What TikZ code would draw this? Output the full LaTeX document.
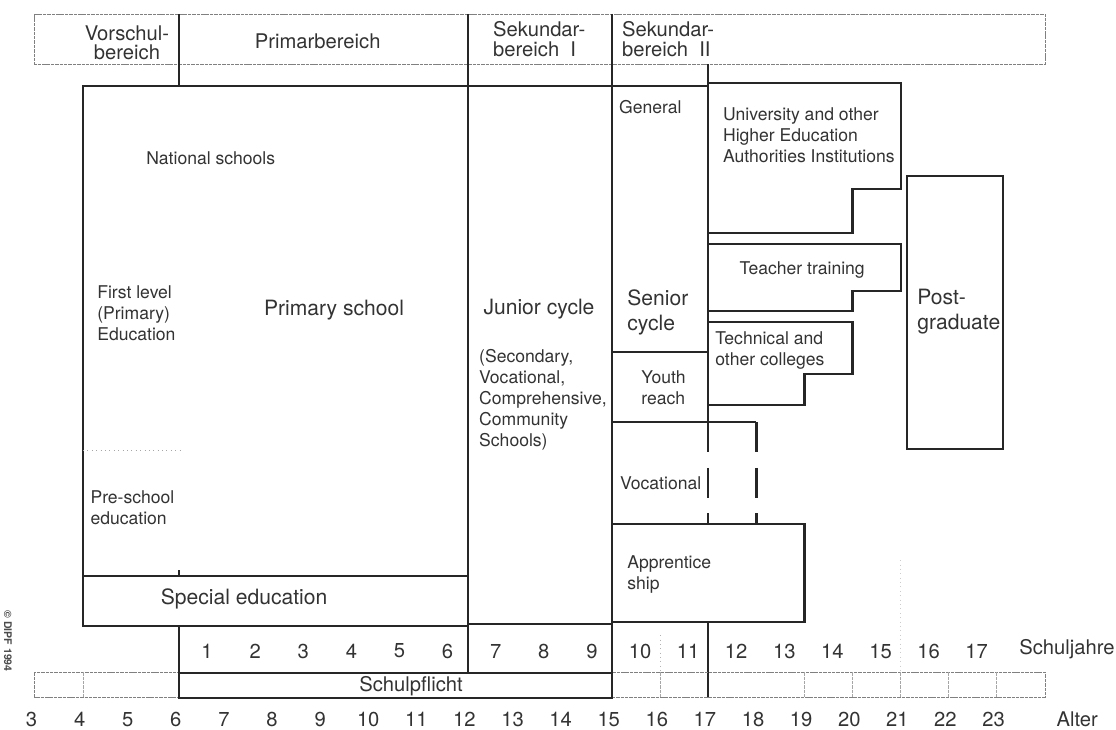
\documentclass[tikz,border=0pt]{standalone}
\usepackage{fontspec}
\setmainfont{TeX Gyre Heros}
\usepackage{tikz}
\usetikzlibrary{calc}
\tikzset{
  heavyline/.style={line width=1.3pt, draw=black!85},
  faintline/.style={line width=0.5pt, draw=black!50, dash pattern=on 2pt off 0.5pt},
  smalltext/.style={font=\fontsize{10}{12}\selectfont, text=black!80, inner sep=0pt, align=left},
  bigtext/.style={font=\fontsize{12}{14.2}\selectfont, text=black!80, inner sep=0pt, align=left},
  bartext/.style={font=\fontsize{11.5}{11}\selectfont, text=black!80, inner sep=0pt},
  axistext/.style={font=\fontsize{11.5}{13}\selectfont, text=black!80, inner sep=0pt},
}

\begin{document}
\begin{tikzpicture}[x=0.962cm, y=-0.02cm]
    \useasboundingbox (2.2745,0) rectangle (25.476,729);
    % Bereiche
    \draw[faintline] (3,14) rectangle (24,64);
    \draw[heavyline] (6,14) -- (6,86);
    \draw[heavyline] (12,14) -- (12,86);
    \draw[heavyline] (15,14) -- (15,698);
    \draw[heavyline] (17,64) -- (17,452);
    \node[bartext, align=center] (vorschul) at (4.915,43) {Vorschul-\\bereich};
    \node[bartext] (primar) at (8.88,41) {Primarbereich};
    \node[bartext, align=left, anchor=west] (sek1) at (12.52,39) {Sekundar-\\bereich\ \ I};
    \node[bartext, align=left, anchor=west] (sek2) at (15.2,39) {Sekundar-\\bereich\ \ II};
    % Primar und Sekundar I
    \draw[heavyline] (17,86) -- (4,86) -- (4,626) -- (12,626) -- (12,86);
    \draw[heavyline] (4,576) -- (12,576);
    \draw[heavyline] (6,570) -- (6,576);
    \draw[heavyline] (12,624) -- (15,624);
    \draw[draw=black!35, line width=0.5pt, dotted] (4,450) -- (6.05,450);
    % Sekundar II
    \draw[heavyline] (15,352) -- (17,352);
    \draw[heavyline] (15,422) -- (18,422);
    \draw[heavyline, dash pattern=on 17pt off 9pt] (17,422) -- (17,524);
    \draw[heavyline, dash pattern=on 17pt off 9pt] (18,422) -- (18,524);
    \draw[heavyline] (15,524) rectangle (19,622);
    % Tertiaer
    \draw[heavyline] (17,83) -- (21,83) -- (21,189) -- (20,189) -- (20,233) -- (17,233);
    \draw[heavyline] (17,244) -- (21,244) -- (21,291) -- (20,291) -- (20,311) -- (17,311);
    \draw[heavyline] (17,322) -- (20,322) -- (20,374) -- (19,374) -- (19,405) -- (17,405);
    \draw[heavyline] (21.13,176) rectangle (23.13,449);
    % Achsen
    \draw[heavyline] (17,622) -- (17,697);
    \draw[heavyline] (12,626) -- (12,673);
    \draw[heavyline] (6,626) -- (6,698);
    \draw[faintline] (3,672) rectangle (24,697);
    \foreach \a in {4,16,19,20,21,22,23}
        \draw[faintline, draw=black!35] (\a,672) -- (\a,697);
    \draw[draw=black!30, line width=0.5pt, dotted] (16,635) -- (16,672);
    \draw[draw=black!20, line width=0.5pt, dotted] (21,560) -- (21,672);
    \draw[heavyline] (6,673) rectangle (15,698);
    \node[axistext] (pflicht) at (10.82,686) {Schulpflicht};
    \foreach \n in {1,...,17}
        \node[axistext] (sj\n) at (\n+5.58,651) {\n};
    \node[axistext, anchor=west] (schuljahre) at (23.46,649) {Schuljahre};
    \foreach \a in {3,...,23}
        \node[axistext] (age\a) at (\a-0.07,719) {\a};
    \node[axistext] (alter) at (24.67,719) {Alter};
    \node[rotate=-90, inner sep=0pt, font=\fontsize{6}{7}\selectfont\bfseries, text=black!70] (dipf) at (2.44,641) {\copyright\ DIPF 1994};
    % Beschriftungen
    \node[smalltext, anchor=west] (natschool) at (5.31,158) {National schools};
    \node[smalltext, anchor=west] (firstlevel) at (4.29,313) {First level\\(Primary)\\Education};
    \node[bigtext] (primschool) at (9.22,310) {Primary school};
    \node[smalltext, anchor=west] (preschool) at (4.15,508) {Pre-school\\education};
    \node[bigtext] (specialed) at (7.35,599) {Special education};
    \node[bigtext, anchor=west] (junior) at (12.32,309) {Junior cycle};
    \node[smalltext, anchor=west] (juniortypes) at (12.23,400) {(Secondary,\\Vocational,\\Comprehensive,\\Community\\Schools)};
    \node[smalltext, anchor=west] (general) at (15.14,107) {General};
    \node[bigtext, anchor=west] (senior) at (15.31,312) {Senior\\cycle};
    \node[smalltext, anchor=west] (youth) at (15.6,388) {Youth\\reach};
    \node[smalltext, anchor=west] (vocational) at (15.16,483) {Vocational};
    \node[smalltext, anchor=west] (apprentice) at (15.31,574) {Apprentice\\ship};
    \node[smalltext, anchor=west] (university) at (17.3,135) {University and other\\Higher Education\\Authorities Institutions};
    \node[smalltext] (teacher) at (18.95,270) {Teacher training};
    \node[smalltext, anchor=west] (technical) at (17.14,350) {Technical and\\other colleges};
    \node[bigtext, anchor=west] (postgrad) at (21.34,312) {Post-\\graduate};
\end{tikzpicture}
\end{document}
